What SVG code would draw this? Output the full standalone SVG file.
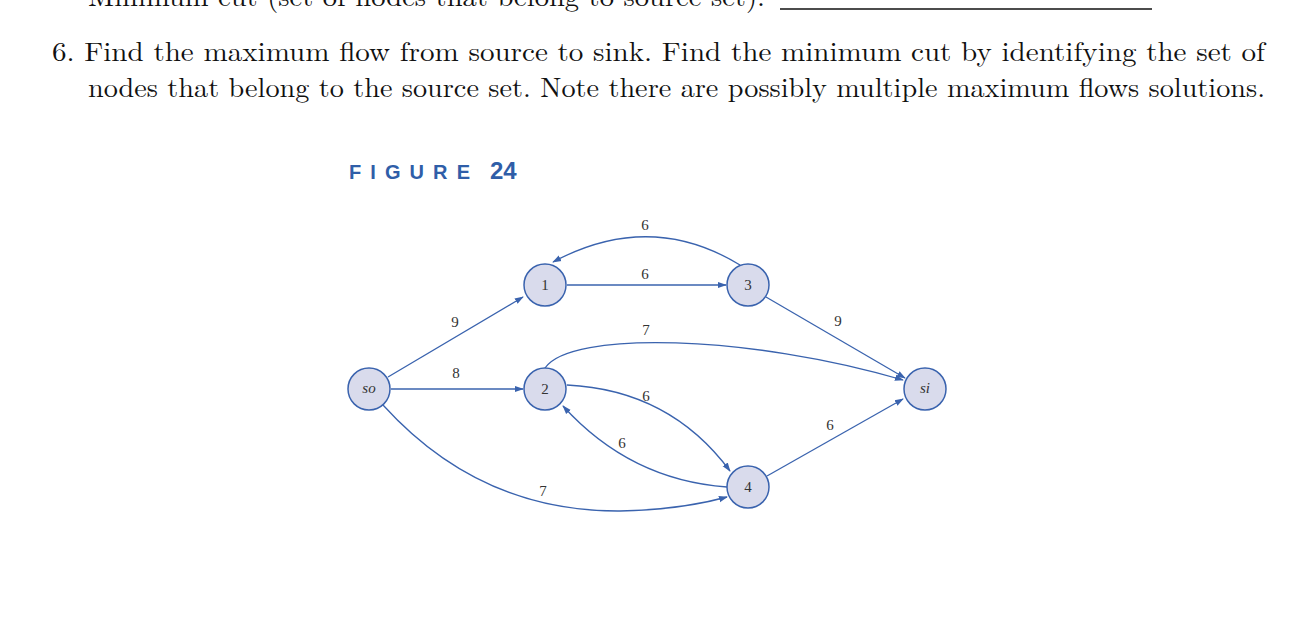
<svg xmlns="http://www.w3.org/2000/svg" width="1305" height="636" viewBox="0 0 1305 636">
<style>
.t{font-family:"Latin Modern Roman","Liberation Serif",serif;font-size:27px;fill:#111}
.n circle{fill:#d9dbec;stroke:#3a63ae;stroke-width:1.5}
.n text,.l{font-family:"Liberation Serif",serif;font-size:15px;fill:#333;text-anchor:middle}
.e path{fill:none;stroke:#3a63ae;stroke-width:1.3;marker-end:url(#a)}
</style>
<defs><marker id="a" viewBox="0 0 10 10" refX="9" refY="5" markerWidth="9" markerHeight="9" markerUnits="userSpaceOnUse" orient="auto"><path d="M0,1.5L10,5L0,8.5z" fill="#3a63ae"/></marker></defs>
<rect width="1305" height="636" fill="#fff"/>
<text class="t" x="88" y="6" textLength="677" lengthAdjust="spacingAndGlyphs">Minimum cut (set of nodes that belong to source set):</text>
<line x1="780" y1="9" x2="1152" y2="9" stroke="#111" stroke-width="1.3"/>
<text class="t" x="52" y="61" textLength="1213" lengthAdjust="spacingAndGlyphs">6.  Find the maximum flow from source to sink. Find the minimum cut by identifying the set of</text>
<text class="t" x="88" y="97" textLength="1177" lengthAdjust="spacingAndGlyphs">nodes that belong to the source set. Note there are possibly multiple maximum flows solutions.</text>
<text x="349" y="179" font-family="Liberation Sans,sans-serif" font-weight="bold" font-size="20" fill="#2f5ea8" textLength="121" lengthAdjust="spacing">FIGURE</text>
<text x="490" y="179" font-family="Liberation Sans,sans-serif" font-weight="bold" font-size="24" fill="#2f5ea8">24</text>
<g class="e" id="edges">
<path d="M740,265 Q650,210 553,262"/>
<path d="M567,285 L726,285"/>
<path d="M388,377 L523,297"/>
<path d="M391,389 L523,389"/>
<path d="M383,405 Q480,512 620,511 Q680,510 727,497"/>
<path d="M545,368 C570,330 750,335 903,380"/>
<path d="M766,297 L905,378"/>
<path d="M567,385 Q670,390 730,471"/>
<path d="M727,487 Q630,480 563,406"/>
<path d="M767,476 L903,399"/>
</g>
<g class="l-group">
<text class="l" x="645" y="230">6</text>
<text class="l" x="645" y="279">6</text>
<text class="l" x="455" y="327">9</text>
<text class="l" x="456" y="378">8</text>
<text class="l" x="543" y="496">7</text>
<text class="l" x="646" y="335">7</text>
<text class="l" x="838" y="326">9</text>
<text class="l" x="646" y="401">6</text>
<text class="l" x="622" y="448">6</text>
<text class="l" x="830" y="430">6</text>
</g>
<g class="n" id="n1"><circle cx="545" cy="285" r="21"/><text x="545" y="290">1</text></g>
<g class="n" id="n3"><circle cx="748" cy="285" r="21"/><text x="748" y="290">3</text></g>
<g class="n" id="nso"><circle cx="369" cy="389" r="21"/><text x="369" y="393" font-style="italic">so</text></g>
<g class="n" id="n2"><circle cx="545" cy="389" r="21"/><text x="545" y="394">2</text></g>
<g class="n" id="nsi"><circle cx="925" cy="389" r="21"/><text x="925" y="393" font-style="italic">si</text></g>
<g class="n" id="n4"><circle cx="748" cy="487" r="21"/><text x="748" y="492">4</text></g>
</svg>
